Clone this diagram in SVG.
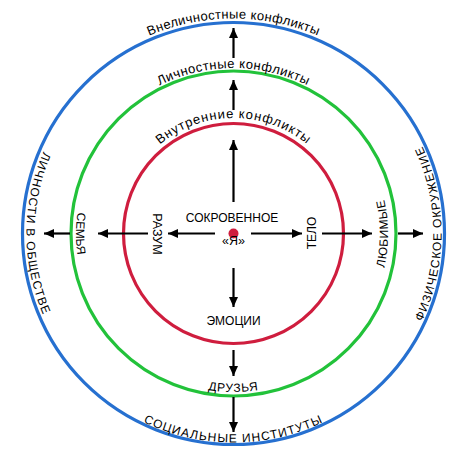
<svg xmlns="http://www.w3.org/2000/svg" width="467" height="467" viewBox="0 0 467 467">
<style>
.ring{fill:none;stroke-width:3.2}
.lbl{font-family:"Liberation Sans",Arial,sans-serif;font-size:12px;fill:#000}
.top{font-size:13px}
.arr{stroke:#000;stroke-width:2.2;fill:none;marker-end:url(#ah)}
</style>
<defs>
<marker id="ah" markerUnits="userSpaceOnUse" markerWidth="11" markerHeight="10" refX="10" refY="4.5" orient="auto">
<path d="M0,0 L10,4.5 L0,9 z" fill="#000"/>
</marker>
<path id="pTopB" d="M18.5,233.5 A215,215 0 0 1 448.5,233.5"/>
<path id="pTopG" d="M68,233.5 A165.5,165.5 0 0 1 399,233.5"/>
<path id="pTopR" d="M118,233.5 A115.5,115.5 0 0 1 349,233.5"/>
<path id="pLeftB" d="M233.5,26.5 A207,207 0 0 0 233.5,440.5"/>
<path id="pLeftG" d="M233.5,76 A157.5,157.5 0 0 0 233.5,391"/>
<path id="pRightB" d="M233.5,441.5 A208,208 0 0 0 233.5,25.5"/>
<path id="pRightG" d="M233.5,388 A154.5,154.5 0 0 0 233.5,79"/>
<path id="pBotG" d="M75,233.5 A158.5,158.5 0 0 0 392,233.5"/>
<path id="pBotB" d="M24.5,233.5 A209,209 0 0 0 442.5,233.5"/>
</defs>

<g id="outer-ring">
<circle class="ring" cx="233.5" cy="233.5" r="211" stroke="#2670d0"/>
</g>
<g id="middle-ring">
<circle class="ring" cx="233.5" cy="233.5" r="162.5" stroke="#22c23a"/>
</g>
<g id="inner-ring">
<circle class="ring" cx="233.5" cy="233.5" r="110" stroke="#cf1d3e"/>
</g>

<g id="center">
<circle cx="233.5" cy="233.5" r="5" fill="#cf1d3e"/>
<text class="lbl" x="232" y="222" text-anchor="middle">СОКРОВЕННОЕ</text>
<text class="lbl" x="233.5" y="245" text-anchor="middle" style="font-size:12.5px">«Я»</text>
</g>

<g id="label-vnelichnostnye">
<text class="lbl top" style="letter-spacing:0.35px"><textPath href="#pTopB" startOffset="50%" text-anchor="middle">Внеличностные конфликты</textPath></text>
</g>
<g id="label-lichnostnye">
<text class="lbl top" style="letter-spacing:0.5px"><textPath href="#pTopG" startOffset="50%" text-anchor="middle">Личностные конфликты</textPath></text>
</g>
<g id="label-vnutrennie">
<text class="lbl top" style="letter-spacing:0.9px"><textPath href="#pTopR" startOffset="50%" text-anchor="middle">Внутренние конфликты</textPath></text>
</g>

<g id="label-lichnosti">
<text class="lbl" style="letter-spacing:1px"><textPath href="#pLeftB" startOffset="50%" text-anchor="middle">ЛИЧНОСТИ В ОБЩЕСТВЕ</textPath></text>
</g>
<g id="label-semya">
<text class="lbl"><textPath href="#pLeftG" startOffset="50%" text-anchor="middle">СЕМЬЯ</textPath></text>
</g>
<g id="label-razum">
<text class="lbl" transform="translate(153,234) rotate(90)" text-anchor="middle" style="font-size:12.5px">РАЗУМ</text>
</g>
<g id="label-telo">
<text class="lbl" transform="translate(316,233) rotate(-90)" text-anchor="middle">ТЕЛО</text>
</g>
<g id="label-lyubimye">
<text class="lbl" style="letter-spacing:0.6px"><textPath href="#pRightG" startOffset="50%" text-anchor="middle">ЛЮБИМЫЕ</textPath></text>
</g>
<g id="label-fizicheskoe">
<text class="lbl" style="letter-spacing:1px"><textPath href="#pRightB" startOffset="50%" text-anchor="middle">ФИЗИЧЕСКОЕ ОКРУЖЕНИЕ</textPath></text>
</g>
<g id="label-emocii">
<text class="lbl" x="233.5" y="325" text-anchor="middle">ЭМОЦИИ</text>
</g>
<g id="label-druzya">
<text class="lbl" style="letter-spacing:0.8px"><textPath href="#pBotG" startOffset="50%" text-anchor="middle">ДРУЗЬЯ</textPath></text>
</g>
<g id="label-socialnye">
<text class="lbl" style="letter-spacing:1.1px"><textPath href="#pBotB" startOffset="50%" text-anchor="middle">СОЦИАЛЬНЫЕ ИНСТИТУТЫ</textPath></text>
</g>

<g id="connectors">
<line class="arr" x1="233.5" y1="202" x2="233.5" y2="140"/>
<line class="arr" x1="233.5" y1="110" x2="233.5" y2="80"/>
<line class="arr" x1="233.5" y1="58" x2="233.5" y2="28"/>
<line class="arr" x1="233.5" y1="268" x2="233.5" y2="307"/>
<line class="arr" x1="233.5" y1="350" x2="233.5" y2="376"/>
<line class="arr" x1="233.5" y1="397" x2="233.5" y2="432"/>
<line class="arr" x1="215" y1="233.5" x2="168" y2="233.5"/>
<line class="arr" x1="148" y1="233.5" x2="98" y2="233.5"/>
<line class="arr" x1="70" y1="233.5" x2="44" y2="233.5"/>
<line class="arr" x1="251" y1="233.5" x2="302" y2="233.5"/>
<line class="arr" x1="322" y1="233.5" x2="372" y2="233.5"/>
<line class="arr" x1="398" y1="233.5" x2="423" y2="233.5"/>
</g>
</svg>
